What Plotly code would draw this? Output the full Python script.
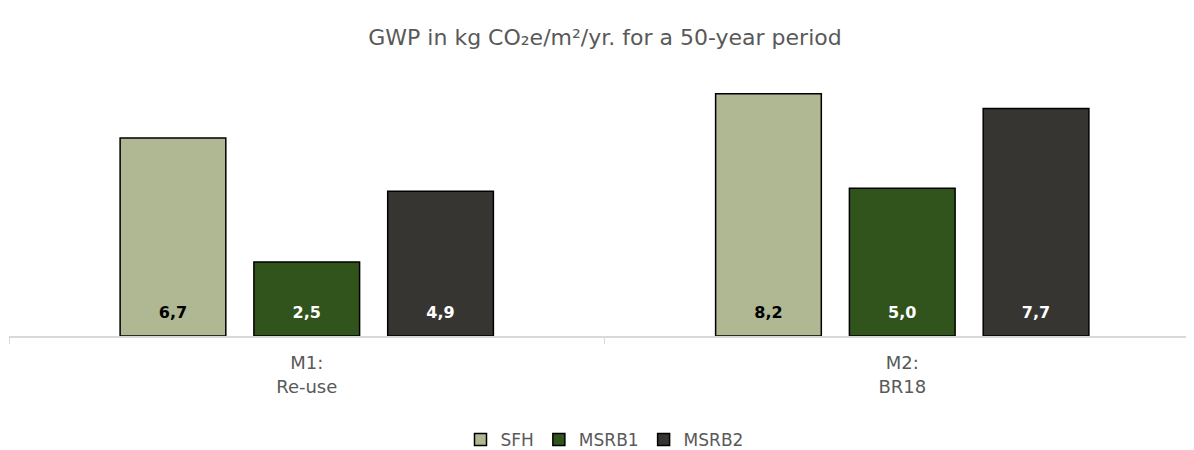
import plotly.graph_objects as go

categories = ["M1:<br>Re-use", "M2:<br>BR18"]
series_names = ["SFH", "MSRB1", "MSRB2"]
sfh = [6.7, 8.2]
msrb1 = [2.5, 5.0]
msrb2 = [4.9, 7.7]
colors = ["#AFB793", "#31531C", "#373531"]
text_colors = ["#000000", "#FFFFFF", "#FFFFFF"]

FONT = "DejaVu Sans"
fig = go.Figure()
for name, vals, c, tc in zip(series_names, [sfh, msrb1, msrb2], colors, text_colors):
    fig.add_trace(go.Bar(
        x=categories, y=vals, name=name,
        marker=dict(color=c, line=dict(color="#000000", width=1.5)),
        texttemplate="<span style='font-size:16px'><b>%{y:.1f}</b></span><br> ",
        textposition="inside", insidetextanchor="start",
        textangle=0,
        textfont=dict(color=tc, size=10, family=FONT),
        cliponaxis=False,
    ))

fig.update_layout(
    width=1194, height=450,
    separators=",.",
    barmode="group", bargap=0.326, bargroupgap=0.21,
    plot_bgcolor="white", paper_bgcolor="white",
    margin=dict(l=1, r=2, t=62, b=121),
    title=dict(text="GWP in kg CO₂e/m²/yr. for a 50-year period",
               x=0.5, xanchor="center", y=0.935, yanchor="middle",
               font=dict(family=FONT, size=22, color="#595959")),
    xaxis=dict(showline=True, linecolor="#D9D9D9", linewidth=1.5,
               ticks="outside", tickson="boundaries", ticklen=6, tickcolor="#D9D9D9",
               ticklabelstandoff=10,
               tickfont=dict(family=FONT, size=18, color="#595959")),
    yaxis=dict(range=[0, 9], visible=False, showgrid=False),
    legend=dict(orientation="h", x=0.5, xanchor="center", y=-0.386, yanchor="middle",
                itemwidth=30,
                font=dict(family=FONT, size=17, color="#595959"), traceorder="normal"),
    showlegend=True,
)
fig.write_html("out.html")
